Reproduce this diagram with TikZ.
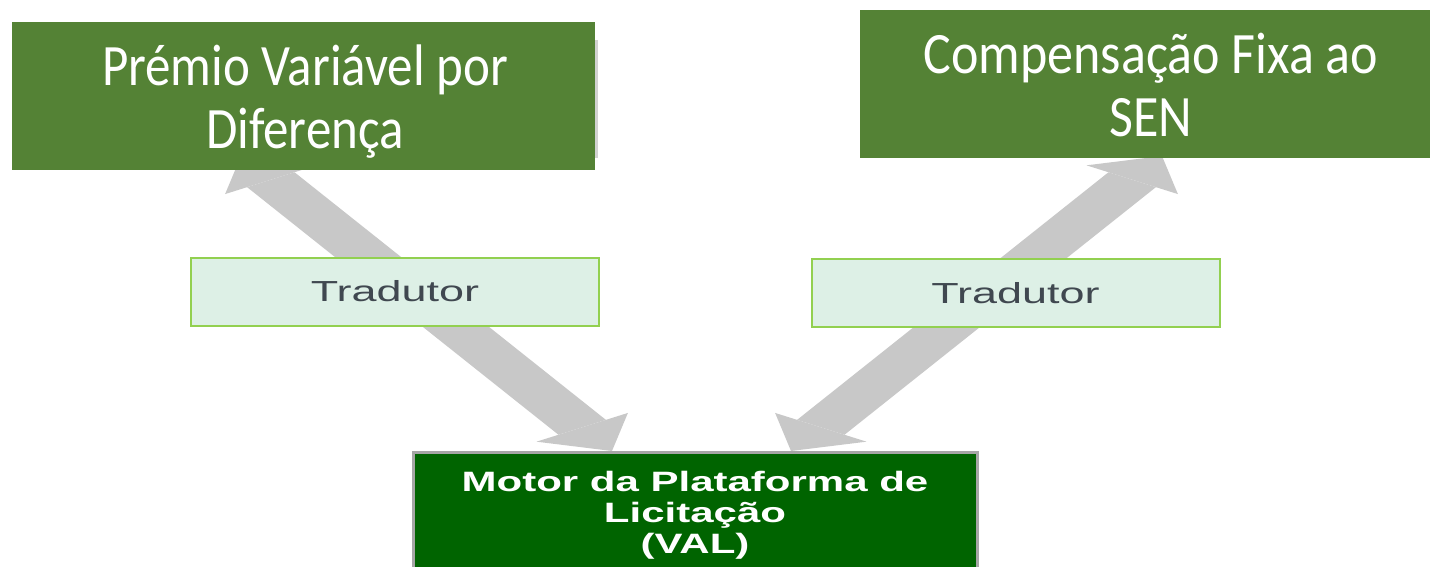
\documentclass[tikz,border=0pt]{standalone}
\usepackage{fontspec}
\setmainfont{Carlito}
\newfontfamily\arialfont{Liberation Sans}
\usetikzlibrary{arrows.meta}
\definecolor{topgreen}{HTML}{548235}
\definecolor{motorgreen}{HTML}{006400}
\definecolor{tradfill}{HTML}{DDF0E6}
\definecolor{tradline}{HTML}{92D050}
\definecolor{arrowgray}{HTML}{C8C8C8}
\definecolor{tradtext}{HTML}{404850}
\definecolor{motorline}{HTML}{A6A6A6}
\tikzset{
  topbox/.style={fill=topgreen, inner sep=0pt},
  toptext/.style={text=white, inner sep=0pt, anchor=base,
    font=\fontsize{51}{55}\selectfont},
  tradbox/.style={fill=tradfill, draw=tradline, line width=2pt, inner sep=0pt,
    minimum width=408pt, minimum height=68pt, text=tradtext,
    font=\arialfont\fontsize{29}{32}\selectfont},
  motorbox/.style={fill=motorgreen, draw=motorline, line width=3pt, inner xsep=0pt, inner ysep=17pt,
    minimum width=564pt, text=white, font=\arialfont\bfseries\fontsize{28}{31}\selectfont},
  bigarrow/.style={draw=arrowgray, line width=28pt,
    {Triangle[width=54pt,length=28pt,line width=0pt]}-{Triangle[width=54pt,length=28pt,line width=0pt]}},
}
\begin{document}
\begin{tikzpicture}[x=1pt,y=-1pt]
\useasboundingbox (0,0) rectangle (1430,566);
% stretched block arrows (drawn at half width, stretched 2x horizontally)
\begin{scope}[transform canvas={xscale=2}]
  \coordinate (la) at (120.5,156);
  \coordinate (lb) at (306,451);
  \coordinate (ra) at (581,156);
  \coordinate (rb) at (395.5,451);
  \draw[bigarrow] (la) -- (lb);
  \draw[bigarrow] (ra) -- (rb);
\end{scope}
% faint shadow edge
\fill[gray!35] (594,40) rectangle (598,158);
% top boxes
\node[topbox, minimum width=583pt, minimum height=148pt] (pvd) at (303.5,96) {};
\node[toptext] (pvdtext) at (305,85)
  {\scalebox{1}[1.15]{\begin{tabular}[t]{@{}c@{}}Prémio Variável por\\Diferença\end{tabular}}};
\node[topbox, minimum width=570pt, minimum height=148pt] (cfs) at (1145,84) {};
\node[toptext] (cfstext) at (1151,73)
  {\scalebox{1.02}[1.15]{\begin{tabular}[t]{@{}c@{}}Compensação Fixa ao\\SEN\end{tabular}}};
% translators
\node[tradbox] (t1) at (395,291.5) {\scalebox{1.55}[1]{Tradutor}};
\node[tradbox] (t2) at (1015.5,293) {\scalebox{1.55}[1]{Tradutor}};
% motor
\node[motorbox, anchor=north] (motor) at (695,451)
  {\scalebox{1.5}[1]{\begin{tabular}{@{}c@{}}Motor da Plataforma de\\Licitação\\(VAL)\end{tabular}}};
\end{tikzpicture}
\end{document}
